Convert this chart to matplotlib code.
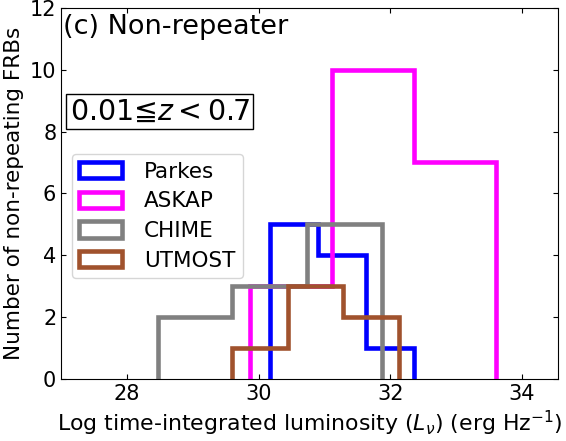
import numpy as np
import matplotlib
matplotlib.use("Agg")
from matplotlib import pyplot as plt

# bin edges and counts
parkes_edges = [30.18, 30.91, 31.63, 32.36]
parkes_counts = [5, 4, 1]
askap_edges = [29.87, 31.11, 32.36, 33.60]
askap_counts = [3, 10, 7]
chime_edges = [28.47, 29.60, 30.74, 31.88]
chime_counts = [2, 3, 5]
utmost_edges = [29.60, 30.45, 31.29, 32.14]
utmost_counts = [1, 3, 2]

labels = ["Parkes", "ASKAP", "CHIME", "UTMOST"]
colors = ["blue", "magenta", "gray", "sienna"]

fig = plt.figure(figsize=(5.66, 4.41), dpi=100)
ax = fig.add_axes([0.108, 0.141, 0.878, 0.841])

for e, c, lab, col in zip([parkes_edges, askap_edges, chime_edges, utmost_edges],
                          [parkes_counts, askap_counts, chime_counts, utmost_counts],
                          labels, colors):
    ax.hist(e[:-1], bins=e, weights=c, histtype='step', color=col,
            linewidth=3.3, label=lab)

ax.set_xlim(27.0, 34.55)
ax.set_ylim(0, 12)
ax.set_xticks([28, 30, 32, 34])
ax.set_yticks(np.arange(0, 13, 2))
ax.tick_params(direction='in', top=True, right=True, labelsize=15)
ax.set_xlabel(r"Log time-integrated luminosity ($L_\nu$) (erg Hz$^{-1}$)", fontsize=15.8)
ax.set_ylabel("Number of non-repeating FRBs", fontsize=15.5)

ax.text(0.003, 0.985, "(c) Non-repeater", transform=ax.transAxes, fontsize=19.5,
        va='top', ha='left')
ax.text(0.017, 0.72, r"0.01≦$z<0.7$", transform=ax.transAxes, fontsize=20.5,
        va='center', ha='left',
        bbox=dict(boxstyle='square,pad=0.12', facecolor='white', edgecolor='black'))

ax.legend(loc='upper left', bbox_to_anchor=(0.0, 0.635), fontsize=15.5,
          handlelength=2.0, handleheight=0.8, borderpad=0.35, labelspacing=0.45,
          handletextpad=1.0)

fig.savefig("out.png", dpi=100)
